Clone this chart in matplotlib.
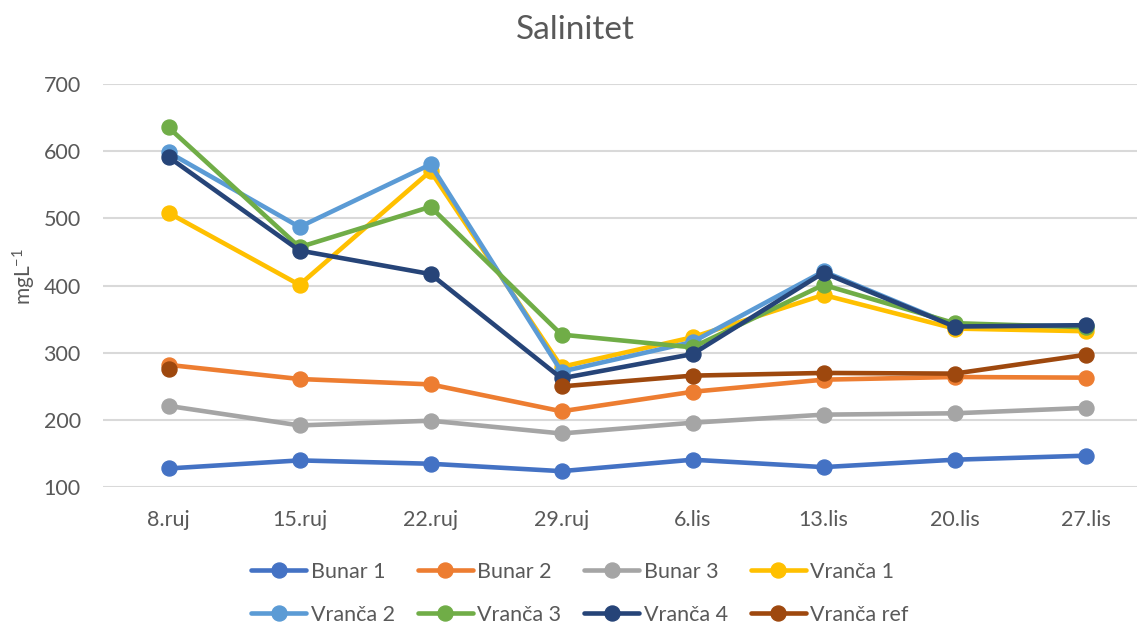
import numpy as np
import matplotlib
matplotlib.use("Agg")
import matplotlib.pyplot as plt

plt.rcParams['font.family'] = ['Lato', 'DejaVu Sans']
plt.rcParams['mathtext.default'] = 'regular'

# data
dates = ["8.ruj", "15.ruj", "22.ruj", "29.ruj", "6.lis", "13.lis", "20.lis", "27.lis"]
bunar_1 = [128, 140, 135, 124, 141, 130, 141, 147]
bunar_2 = [282, 261, 253, 213, 242, 260, 264, 263]
bunar_3 = [221, 192, 199, 180, 196, 208, 210, 218]
vranca_1 = [508, 401, 570, 279, 323, 386, 336, 332]
vranca_2 = [598, 487, 580, 272, 316, 421, 340, 340]
vranca_3 = [635, 457, 517, 327, 308, 401, 344, 338]
vranca_4 = [591, 452, 417, 262, 298, 419, 339, 341]
vranca_ref = [276, np.nan, np.nan, 250, 266, 270, 269, 297]

series = [
    ("Bunar 1", bunar_1, "#4472C4"),
    ("Bunar 2", bunar_2, "#ED7D31"),
    ("Bunar 3", bunar_3, "#A5A5A5"),
    ("Vranča 1", vranca_1, "#FFC000"),
    ("Vranča 2", vranca_2, "#5B9BD5"),
    ("Vranča 3", vranca_3, "#70AD47"),
    ("Vranča 4", vranca_4, "#264478"),
    ("Vranča ref", vranca_ref, "#9E480E"),
]

W, H = 1137, 626
fig = plt.figure(figsize=(W / 100, H / 100), dpi=100)
# plot area is cut off on the right in the reference, so the axes run past the edge
ax = fig.add_axes([103 / W, 1 - 487.3 / H, 1048 / W, 403.6 / H])

x = np.arange(len(dates))
handles = []
for name, vals, col in series:
    ln, = ax.plot(x, vals, color=col, lw=3.3, marker='o', ms=10.8,
                  solid_capstyle='round', label=name, clip_on=False, zorder=3)
    handles.append(ln)

ax.set_xlim(-0.5, len(dates) - 0.5)
ax.set_ylim(100, 700)
ax.set_yticks(range(100, 701, 100))
ax.set_xticks(x)
ax.set_xticklabels(dates)
ax.grid(axis='y', color='#D9D9D9', lw=1.5)
ax.set_axisbelow(True)
for s in ax.spines.values():
    s.set_visible(False)
ax.tick_params(axis='both', length=0, labelsize=15.5, labelcolor='#595959')
ax.tick_params(axis='y', pad=16)
ax.tick_params(axis='x', pad=16)

fig.text(575 / W, 1 - 30 / H, "Salinitet", ha='center', va='center',
         fontsize=24, color='#595959')
fig.text(24 / W, 1 - 277 / H, "mgL$^{-1}$", ha='center', va='center',
         rotation=90, fontsize=15, color='#595959')

# legend fills column by column, so reorder to get row-wise order like Excel
order = [0, 4, 1, 5, 2, 6, 3, 7]
fig.legend([handles[i] for i in order], [series[i][0] for i in order],
           loc='upper center', bbox_to_anchor=(580 / W, 1 - 562 / H), ncol=4,
           frameon=False, fontsize=15.5, labelcolor='#595959',
           handlelength=2.56, handletextpad=0.2, labelspacing=1.05,
           columnspacing=1.07, borderpad=0, borderaxespad=0)

fig.savefig("out.png", dpi=100)
